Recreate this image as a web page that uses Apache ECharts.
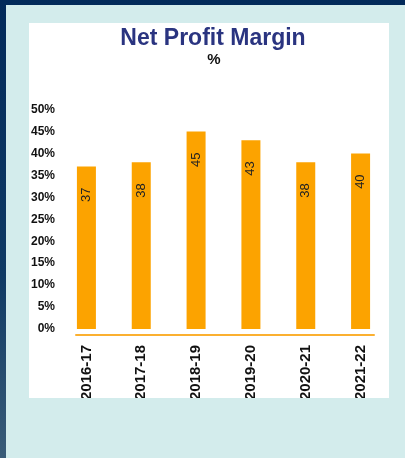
<!DOCTYPE html>
<html>
<head>
<meta charset="utf-8">
<script src="https://cdn.jsdelivr.net/npm/echarts@6/dist/echarts.min.js"></script>
<style>
html,body{margin:0;padding:0;}
#c{width:405px;height:458px;}
</style>
</head>
<body>
<div id="c"></div>
<script>
const categories = ['2016-17', '2017-18', '2018-19', '2019-20', '2020-21', '2021-22'];
const margins = [37, 38, 45, 43, 38, 40];
const yTicks = { min: 0, max: 50, interval: 5 };
const titleText = 'Net Profit Margin';
const subtitleText = '%';

const chart = echarts.init(document.getElementById('c'), null, { renderer: 'canvas' });
const font = "'Liberation Sans', Arial, sans-serif";

chart.setOption({
  animation: false,
  backgroundColor: {
    type: 'linear', x: 0, y: 0, x2: 0, y2: 1,
    colorStops: [{ offset: 0, color: '#022a5a' }, { offset: 0.6, color: '#0f3a64' }, { offset: 1, color: '#3a5c78' }]
  },
  graphic: [
    { type: 'rect', z: -10, shape: { x: 6, y: 5, width: 399, height: 453 }, style: { fill: '#d3ecec' } },
    { type: 'rect', z: -9, shape: { x: 29, y: 23, width: 360, height: 375 }, style: { fill: '#ffffff' } },
    { type: 'rect', z: 100, shape: { x: 6, y: 398, width: 399, height: 60 }, style: { fill: '#d3ecec' } }
  ],
  title: [
    {
      text: titleText, left: 208, top: 22, textAlign: 'center',
      textStyle: { fontFamily: font, fontSize: 23, fontWeight: 'bold', color: '#2a3480' }
    },
    {
      text: subtitleText, left: 209, top: 47, textAlign: 'center',
      textStyle: { fontFamily: font, fontSize: 15, fontWeight: 'bold', color: '#111' }
    }
  ],
  grid: [
    { left: 59, right: 17, top: 109.5, bottom: 129, containLabel: false },
    { left: 76, right: 31, top: 300, bottom: 123, containLabel: false }
  ],
  xAxis: [
    {
      type: 'category', gridIndex: 0, data: categories,
      axisLine: { show: false }, axisTick: { show: false },
      axisLabel: { rotate: 90, margin: 16, fontFamily: font, fontSize: 15, fontWeight: 'bold', color: '#111', interval: 0 }
    },
    {
      type: 'category', gridIndex: 1, data: categories,
      axisLine: { show: true, lineStyle: { color: '#fbb030', width: 2 } },
      axisTick: { show: false }, axisLabel: { show: false }, splitLine: { show: false }
    }
  ],
  yAxis: [
    {
      type: 'value', gridIndex: 0, min: yTicks.min, max: yTicks.max, interval: yTicks.interval,
      axisLine: { show: false }, axisTick: { show: false }, splitLine: { show: false },
      axisLabel: { formatter: '{value}%', margin: 4, fontFamily: font, fontSize: 12, fontWeight: 'bold', color: '#111' }
    },
    { type: 'value', gridIndex: 1, show: false }
  ],
  series: [
    {
      type: 'bar', xAxisIndex: 0, yAxisIndex: 0, data: margins, barWidth: 19,
      itemStyle: { color: '#fca300' },
      label: {
        show: true, position: ['50%', 21], rotate: 90, align: 'right', verticalAlign: 'middle',
        fontFamily: font, fontSize: 13, color: '#222'
      }
    }
  ]
});
</script>
</body>
</html>
